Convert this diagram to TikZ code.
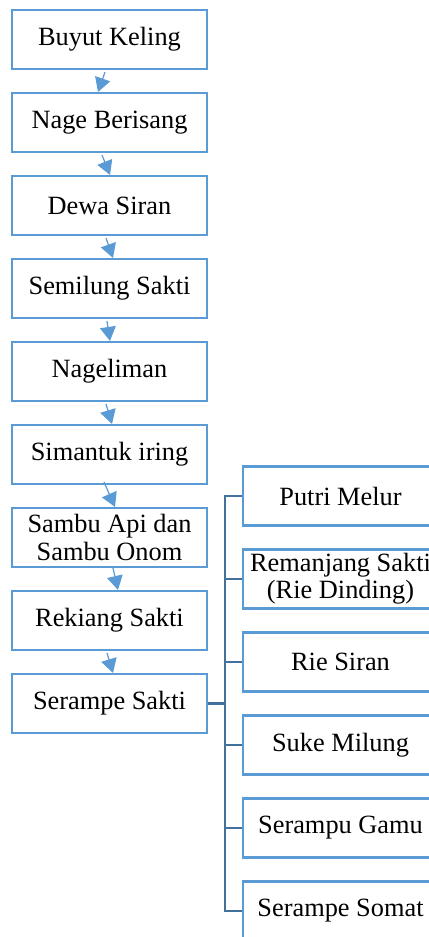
\documentclass[tikz,border=0pt]{standalone}
\usepackage{fontspec}
\setmainfont{Liberation Serif}
\usetikzlibrary{arrows.meta}
\definecolor{boxblue}{RGB}{91,155,213}
\definecolor{busblue}{RGB}{65,113,156}
\begin{document}
\begin{tikzpicture}[x=0.02cm,y=-0.02cm,
    person/.style={draw=boxblue,line width=1.2pt,minimum width=3.9cm,minimum height=1.18cm,
      inner sep=1pt,align=center,font=\rmfamily\fontsize{15}{15.5}\selectfont},
    arr/.style={boxblue,line width=0.7pt,-{Triangle[length=8pt,width=9pt]}},
    bus/.style={busblue,line width=1.3pt}]
    \clip (0,0) rectangle (429,937);
    % left column
    \node[person] (buyut)     at (109.5,39.5)  {Buyut Keling};
    \node[person] (nage)      at (109.5,122.5) {Nage Berisang};
    \node[person] (dewa)      at (109.5,205.5) {Dewa Siran};
    \node[person] (semilung)  at (109.5,288.5) {Semilung Sakti};
    \node[person] (nageliman) at (109.5,371.5) {Nageliman};
    \node[person] (simantuk)  at (109.5,454.5) {Simantuk iring};
    \node[person] (sambu)     at (109.5,537.5) {Sambu Api dan\\Sambu Onom};
    \node[person] (rekiang)   at (109.5,620.5) {Rekiang Sakti};
    \node[person] (serampe)   at (109.5,703.5) {Serampe Sakti};
    \draw[arr] ([shift={(-4.5,2)}]buyut.south)     -- ([shift={(-11.5,0)}]nage.north);
    \draw[arr] ([shift={(-7.5,2)}]nage.south)      -- ([shift={(0.5,0)}]dewa.north);
    \draw[arr] ([shift={(-3.5,2)}]dewa.south)      -- ([shift={(3.5,0)}]semilung.north);
    \draw[arr] ([shift={(-2.5,2)}]semilung.south)  -- ([shift={(0.5,0)}]nageliman.north);
    \draw[arr] ([shift={(-3.5,2)}]nageliman.south) -- ([shift={(2.5,0)}]simantuk.north);
    \draw[arr] ([shift={(-5.5,-3)}]simantuk.south) -- ([shift={(5.5,0)}]sambu.north);
    \draw[arr] ([shift={(3.5,0)}]sambu.south)      -- ([shift={(8.5,0)}]rekiang.north);
    \draw[arr] ([shift={(-2.5,2)}]rekiang.south)   -- ([shift={(3.5,0)}]serampe.north);
    % children
    \node[person] (putri)     at (340.5,496) {Putri Melur};
    \node[person] (remanjang) at (340.5,579) {Remanjang Sakti\\(Rie Dinding)};
    \node[person] (riesiran)  at (340.5,662) {Rie Siran};
    \node[person] (suke)      at (340.5,745) {Suke Milung};
    \node[person] (serampu)   at (340.5,828) {Serampu Gamu};
    \node[person] (somat)     at (340.5,911) {Serampe Somat};
    \coordinate (busline) at (225,0);
    \draw[bus] (serampe.east) -- (serampe.east -| busline);
    \draw[bus] (putri.west) -- (putri.west -| busline) -- (somat.west -| busline) -- (somat.west);
    \draw[bus] (remanjang.west -| busline) -- (remanjang.west);
    \draw[bus] (riesiran.west -| busline) -- (riesiran.west);
    \draw[bus] (suke.west -| busline) -- (suke.west);
    \draw[bus] (serampu.west -| busline) -- (serampu.west);
\end{tikzpicture}
\end{document}
